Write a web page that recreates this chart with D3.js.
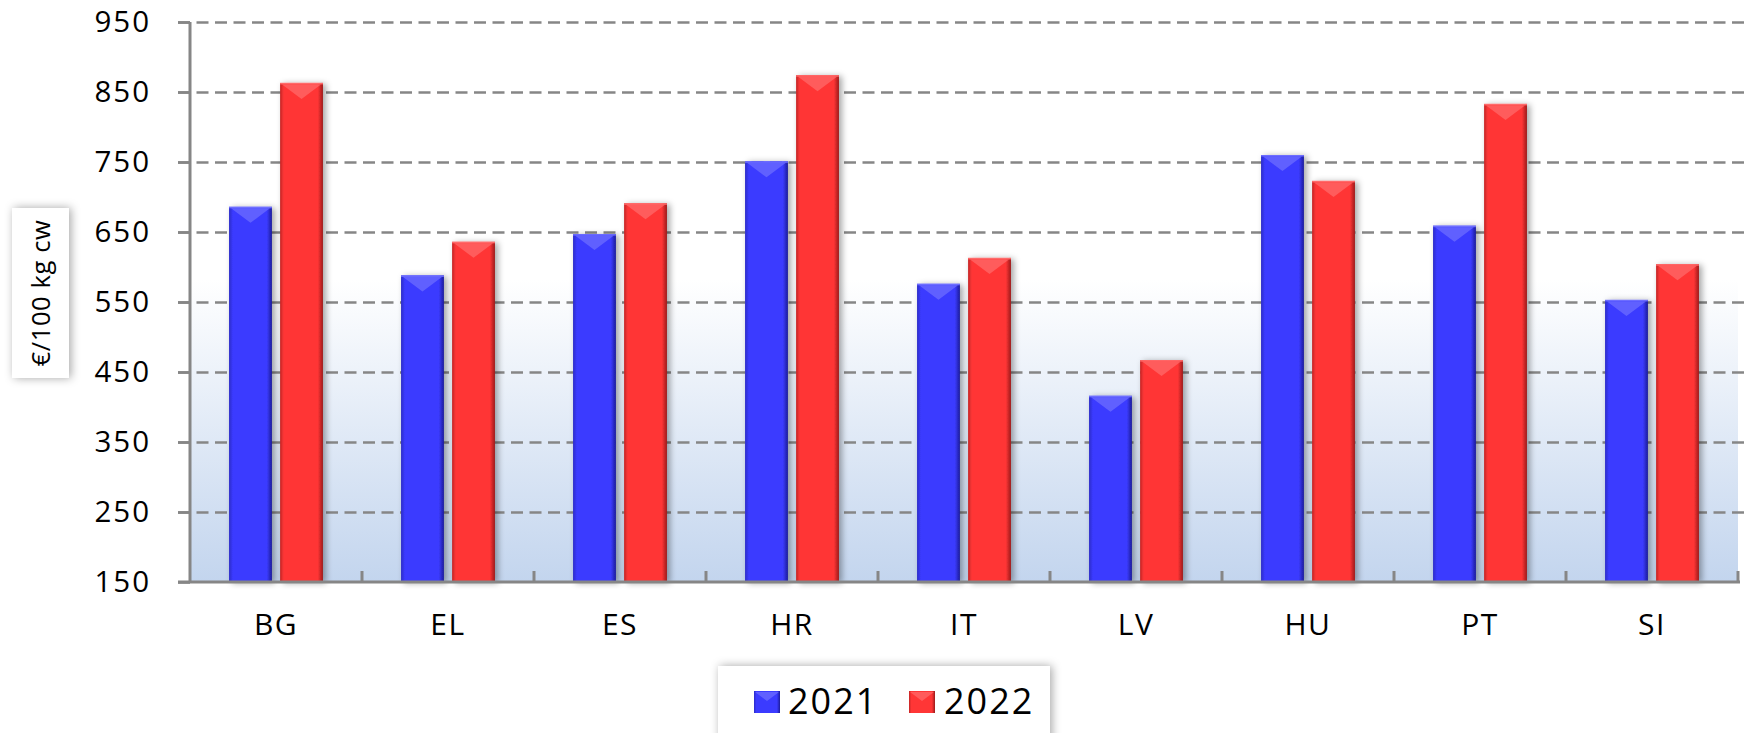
<!DOCTYPE html>
<html>
<head>
<meta charset="utf-8">
<script src="https://cdn.jsdelivr.net/npm/d3@7"></script>
<style>
  html, body { margin: 0; padding: 0; background: #ffffff; }
  svg { display: block; }
  text { font-family: "Open Sans", "Liberation Sans", sans-serif; fill: #000; }
</style>
</head>
<body>
<svg id="chart" width="1744" height="733"></svg>
<script>
// ---- data ----
const categories = ["BG", "EL", "ES", "HR", "IT", "LV", "HU", "PT", "SI"];
const seriesNames = ["2021", "2022"];
const values2021 = [686, 588, 647, 751, 576, 416, 760, 659, 553];
const values2022 = [863, 636, 691, 874, 613, 467, 723, 833, 604];
const yTickValues = [150, 250, 350, 450, 550, 650, 750, 850, 950];
const yAxisTitle = "€/100 kg cw";

// ---- layout ----
const W = 1744, H = 733;
const plot = { left: 190, right: 1738, top: 22, bottom: 582 };

const svg = d3.select("#chart");
const defs = svg.append("defs");

// background gradient
const bg = defs.append("linearGradient").attr("id", "bgGrad")
  .attr("x1", 0).attr("y1", 0).attr("x2", 0).attr("y2", 1);
bg.append("stop").attr("offset", "0%").attr("stop-color", "#ffffff");
bg.append("stop").attr("offset", "46%").attr("stop-color", "#ffffff");
bg.append("stop").attr("offset", "100%").attr("stop-color", "#c3d5ee");

// bar gradients
function barGrad(id, edgeL, mid, edgeR) {
  const g = defs.append("linearGradient").attr("id", id)
    .attr("x1", 0).attr("y1", 0).attr("x2", 1).attr("y2", 0);
  g.append("stop").attr("offset", "0%").attr("stop-color", edgeL);
  g.append("stop").attr("offset", "9%").attr("stop-color", mid);
  g.append("stop").attr("offset", "88%").attr("stop-color", mid);
  g.append("stop").attr("offset", "100%").attr("stop-color", edgeR);
}
barGrad("g2021", "#2c2cc8", "#3b3bff", "#1c1c9a");
barGrad("g2022", "#c42626", "#ff3636", "#9c1a1a");
const topColor = { "2021": "#6d6dff", "2022": "#ff6a6a" };
const gradId = { "2021": "url(#g2021)", "2022": "url(#g2022)" };

// shadows
const f1 = defs.append("filter").attr("id", "barShadow")
  .attr("x", "-30%").attr("y", "-10%").attr("width", "160%").attr("height", "120%");
f1.append("feDropShadow").attr("dx", 3).attr("dy", 1).attr("stdDeviation", 3)
  .attr("flood-color", "#000").attr("flood-opacity", 0.35);
const f2 = defs.append("filter").attr("id", "boxShadow")
  .attr("x", "-20%").attr("y", "-20%").attr("width", "140%").attr("height", "140%");
f2.append("feDropShadow").attr("dx", 2).attr("dy", 0).attr("stdDeviation", 5)
  .attr("flood-color", "#000").attr("flood-opacity", 0.35);

// ---- scales ----
const y = d3.scaleLinear().domain([150, 950]).range([plot.bottom, plot.top]);
const x0 = d3.scaleBand().domain(categories).range([plot.left, plot.right])
  .paddingInner(0).paddingOuter(0);
const bw = x0.bandwidth();
const x1 = d3.scaleBand().domain(seriesNames)
  .range([bw * 0.227, bw * 0.773]).paddingInner(0.16).paddingOuter(0);

// plot background
svg.append("rect")
  .attr("x", plot.left).attr("y", plot.top)
  .attr("width", plot.right - plot.left).attr("height", plot.bottom - plot.top)
  .attr("fill", "url(#bgGrad)");

// gridlines (dashed) via axis
const grid = svg.append("g").attr("transform", `translate(${plot.left},0)`)
  .call(d3.axisRight(y).tickValues(yTickValues.filter(v => v !== 150))
    .tickSize(W - plot.left + 12).tickFormat(""));
grid.select(".domain").remove();
grid.selectAll("line")
  .attr("x1", -12)
  .attr("stroke", "#868686").attr("stroke-width", 2.6)
  .attr("stroke-dasharray", "12,6.5");

// y axis labels
const yAxis = svg.append("g").attr("transform", `translate(${plot.left},0)`)
  .call(d3.axisLeft(y).tickValues(yTickValues).tickSize(12).tickPadding(27).tickFormat(d3.format("d")));
yAxis.select(".domain").remove();
yAxis.selectAll("line").attr("stroke", "#868686").attr("stroke-width", 2.6);
yAxis.selectAll("text")
  .style("font-family", "'Open Sans', sans-serif")
  .attr("font-size", 29.5).attr("letter-spacing", 2).attr("fill", "#000");

// bars
const data = categories.map((c, i) => ({ cat: c, vals: [
  { s: "2021", v: values2021[i] }, { s: "2022", v: values2022[i] } ] }));

const groups = svg.append("g").selectAll("g").data(data).join("g")
  .attr("transform", d => `translate(${x0(d.cat)},0)`);

const bars = groups.selectAll("g.bar").data(d => d.vals).join("g").attr("class", "bar");
bars.append("rect")
  .attr("x", d => x1(d.s)).attr("y", d => y(d.v))
  .attr("width", x1.bandwidth()).attr("height", d => y(150) - y(d.v))
  .attr("fill", d => gradId[d.s])
  .attr("filter", "url(#barShadow)");
// top bevel chevron
bars.append("path")
  .attr("d", d => {
    const bx = x1(d.s), w = x1.bandwidth(), t = y(d.v);
    return `M${bx + 2},${t + 1.5} L${bx + w - 2},${t + 1.5} L${bx + w / 2},${t + 16} Z`;
  })
  .attr("fill", d => topColor[d.s]).attr("opacity", 0.75);
bars.append("rect")
  .attr("x", d => x1(d.s)).attr("y", d => y(d.v))
  .attr("width", x1.bandwidth()).attr("height", 1.5)
  .attr("fill", d => topColor[d.s]);

// y axis line
svg.append("line")
  .attr("x1", plot.left).attr("x2", plot.left)
  .attr("y1", y(950)).attr("y2", y(150) + 1)
  .attr("stroke", "#868686").attr("stroke-width", 3);

// x axis
const xAxis = svg.append("g").attr("transform", `translate(0,${plot.bottom})`)
  .call(d3.axisBottom(x0).tickSize(0).tickPadding(32));
xAxis.select(".domain").remove();
xAxis.selectAll("text")
  .style("font-family", "'Open Sans', sans-serif")
  .attr("font-size", 30).attr("letter-spacing", 1.5).attr("fill", "#000");

// x axis line and inner ticks at category boundaries
svg.append("line")
  .attr("x1", plot.left - 12).attr("x2", plot.right + 2)
  .attr("y1", plot.bottom).attr("y2", plot.bottom)
  .attr("stroke", "#868686").attr("stroke-width", 3);
svg.append("g").selectAll("line")
  .data(categories.slice(1).concat(["__end"]))
  .join("line")
  .attr("x1", d => d === "__end" ? plot.right : x0(d))
  .attr("x2", d => d === "__end" ? plot.right : x0(d))
  .attr("y1", plot.bottom).attr("y2", plot.bottom - 11)
  .attr("stroke", "#868686").attr("stroke-width", 3);

// y axis title box
const tb = svg.append("g");
tb.append("rect").attr("x", 12).attr("y", 208).attr("width", 57).attr("height", 170)
  .attr("fill", "#fff").attr("filter", "url(#boxShadow)");
tb.append("text")
  .attr("transform", "translate(50,293) rotate(-90)")
  .attr("text-anchor", "middle")
  .attr("font-size", 25.5).attr("letter-spacing", 0.6)
  .text(yAxisTitle);

// legend
const lg = svg.append("g");
lg.append("rect").attr("x", 718).attr("y", 666).attr("width", 332).attr("height", 90)
  .attr("fill", "#fff").attr("filter", "url(#boxShadow)");
const legendItems = [
  { s: "2021", sx: 754, tx: 788 },
  { s: "2022", sx: 909, tx: 944 }
];
const li = lg.selectAll("g.item").data(legendItems).join("g").attr("class", "item");
li.append("rect").attr("x", d => d.sx).attr("y", 691).attr("width", 26).attr("height", 22)
  .attr("fill", d => gradId[d.s]);
li.append("path")
  .attr("d", d => `M${d.sx + 1},${692} L${d.sx + 25},${692} L${d.sx + 13},${701} Z`)
  .attr("fill", d => topColor[d.s]).attr("opacity", 0.75);
li.append("text").attr("x", d => d.tx).attr("y", 714)
  .attr("font-size", 36).attr("letter-spacing", 2)
  .text(d => d.s);
</script>
</body>
</html>
